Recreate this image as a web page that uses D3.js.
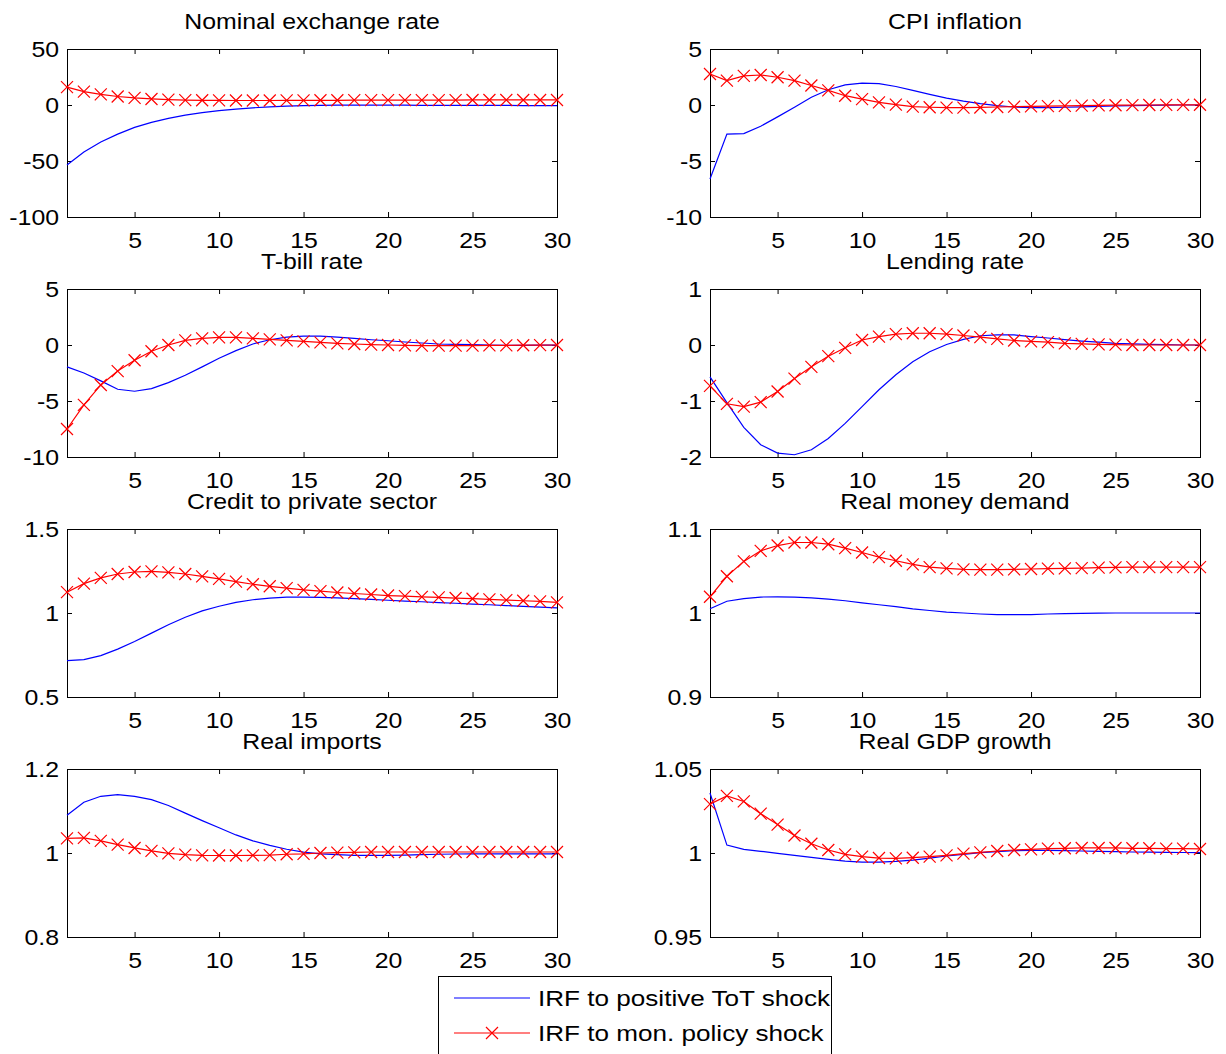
<!DOCTYPE html>
<html>
<head>
<meta charset="utf-8">
<script src="https://cdn.jsdelivr.net/npm/d3@7"></script>
<style>
  body{margin:0;background:#fff;}
  svg text{font-family:"Liberation Sans",Arial,Helvetica,sans-serif;fill:#000;}
</style>
</head>
<body>
<svg id="chart" width="1226" height="1054"></svg>
<script>
// horizons 1..30
const horizon=d3.range(1,31);
const xTicks=[5,10,15,20,25,30];

const titles=["Nominal exchange rate","CPI inflation","T-bill rate","Lending rate",
  "Credit to private sector","Real money demand","Real imports","Real GDP growth"];

const legendLabels=["IRF to positive ToT shock","IRF to mon. policy shock"];

// y tick labels of each panel
const ticksNer=[-100,-50,0,50];
const ticksCpi=[-10,-5,0,5];
const ticksTbill=[-10,-5,0,5];
const ticksLend=[-2,-1,0,1];
const ticksCredit=[0.5,1,1.5];
const ticksMoney=[0.9,1,1.1];
const ticksImports=[0.8,1,1.2];
const ticksGdp=[0.95,1,1.05];

// IRF to positive ToT shock (blue)
const totNer=[-53.5,-42,-33,-26,-20,-15.5,-12,-9,-6.8,-5,-3.6,-2.5,-1.6,-1,-0.6,-0.3,-0.2,-0.2,-0.2,-0.2,-0.2,-0.3,-0.3,-0.3,-0.4,-0.4,-0.4,-0.5,-0.5,-0.5];
const totCpi=[-6.6,-2.6,-2.55,-1.9,-1.06,-0.2,0.7,1.36,1.8,1.95,1.9,1.65,1.3,0.95,0.62,0.35,0.12,-0.06,-0.18,-0.24,-0.24,-0.2,-0.16,-0.12,-0.08,-0.05,-0.03,-0.01,0,0];
const totTbill=[-1.95,-2.5,-3.2,-3.95,-4.13,-3.9,-3.36,-2.7,-1.95,-1.18,-0.5,0.09,0.47,0.7,0.8,0.8,0.7,0.59,0.47,0.38,0.27,0.18,0.09,0.06,0.03,0,-0.03,-0.03,-0.02,-0.02];
const totLend=[-0.57,-1.03,-1.47,-1.78,-1.93,-1.96,-1.87,-1.67,-1.4,-1.1,-0.8,-0.53,-0.3,-0.12,0.01,0.1,0.165,0.18,0.18,0.15,0.125,0.095,0.07,0.05,0.03,0.02,0.01,0.005,0,0];
const totCredit=[0.717,0.722,0.746,0.785,0.83,0.88,0.93,0.975,1.013,1.04,1.063,1.079,1.089,1.094,1.095,1.093,1.09,1.086,1.081,1.076,1.071,1.067,1.062,1.058,1.053,1.049,1.044,1.04,1.035,1.031];
const totMoney=[1.005,1.014,1.017,1.019,1.0193,1.019,1.018,1.0165,1.0146,1.012,1.0098,1.0075,1.005,1.003,1.001,1.0,0.9988,0.998,0.998,0.998,0.9988,0.9992,0.9995,0.9998,1.0,1.0,1.0,1.0,1.0,1.0];
const totImports=[1.09,1.121,1.135,1.139,1.135,1.127,1.113,1.095,1.077,1.06,1.043,1.029,1.018,1.009,1.002,0.998,0.996,0.9945,0.9945,0.9945,0.995,0.996,0.997,0.9976,0.998,0.998,0.998,0.998,0.998,0.998];
const totGdp=[1.0357,1.0047,1.0022,1.001,0.9998,0.9986,0.9974,0.9962,0.9952,0.9946,0.9946,0.995,0.9958,0.997,0.9982,0.9992,1.0002,1.0008,1.0014,1.0016,1.0016,1.0014,1.0012,1.001,1.0008,1.0006,1.0005,1.0004,1.0003,1.0002];

// IRF to mon. policy shock (red, x markers)
const mpNer=[16,12,9.5,7.6,6.3,5.4,4.8,4.4,4.2,4.1,4.0,4.0,4.0,4.1,4.1,4.2,4.2,4.3,4.3,4.3,4.4,4.4,4.4,4.4,4.5,4.5,4.5,4.5,4.5,4.5];
const mpCpi=[2.77,2.18,2.6,2.68,2.48,2.18,1.74,1.3,0.83,0.53,0.24,0.03,-0.15,-0.2,-0.24,-0.24,-0.22,-0.18,-0.15,-0.12,-0.1,-0.08,-0.06,-0.04,-0.02,-0.01,0,0.01,0.01,0.02];
const mpTbill=[-7.5,-5.34,-3.57,-2.33,-1.36,-0.56,0,0.41,0.59,0.68,0.68,0.59,0.5,0.41,0.32,0.24,0.15,0.09,0.03,0,-0.03,-0.06,-0.06,-0.06,-0.05,-0.04,-0.03,-0.02,-0.01,0];
const mpLend=[-0.73,-1.05,-1.1,-1.02,-0.83,-0.6,-0.39,-0.2,-0.05,0.09,0.15,0.195,0.21,0.21,0.195,0.17,0.14,0.11,0.08,0.065,0.05,0.03,0.02,0.01,0.006,0,0,0,0,0];
const mpCredit=[1.124,1.175,1.209,1.232,1.244,1.248,1.242,1.232,1.218,1.203,1.187,1.171,1.159,1.148,1.138,1.13,1.122,1.116,1.11,1.104,1.1,1.096,1.093,1.089,1.085,1.081,1.077,1.073,1.069,1.063];
const mpMoney=[1.0193,1.0437,1.0614,1.074,1.0803,1.0839,1.0839,1.0819,1.0772,1.072,1.0665,1.0622,1.0579,1.0547,1.0531,1.052,1.0516,1.0516,1.052,1.0524,1.0528,1.0531,1.0535,1.054,1.0543,1.0547,1.0547,1.0547,1.0547,1.0547];
const mpImports=[1.035,1.036,1.029,1.02,1.012,1.005,0.999,0.996,0.9945,0.994,0.994,0.9945,0.995,0.997,0.998,1.0,1.0008,1.0016,1.0024,1.0024,1.0024,1.0024,1.0024,1.0024,1.0024,1.0024,1.0024,1.0024,1.0024,1.0024];
const mpGdp=[1.0291,1.034,1.0307,1.0234,1.0169,1.0104,1.0055,1.0018,0.9992,0.9978,0.997,0.9968,0.9972,0.9978,0.9986,0.9996,1.0004,1.0012,1.0018,1.0022,1.0026,1.0028,1.003,1.003,1.003,1.0028,1.0028,1.0026,1.0026,1.0024];

const panels=[
  {title:titles[0],ticks:ticksNer,tot:totNer,mp:mpNer},
  {title:titles[1],ticks:ticksCpi,tot:totCpi,mp:mpCpi},
  {title:titles[2],ticks:ticksTbill,tot:totTbill,mp:mpTbill},
  {title:titles[3],ticks:ticksLend,tot:totLend,mp:mpLend},
  {title:titles[4],ticks:ticksCredit,tot:totCredit,mp:mpCredit},
  {title:titles[5],ticks:ticksMoney,tot:totMoney,mp:mpMoney},
  {title:titles[6],ticks:ticksImports,tot:totImports,mp:mpImports},
  {title:titles[7],ticks:ticksGdp,tot:totGdp,mp:mpGdp}
];

const svg=d3.select("#chart");
const colLeft=[67,710];
const top0=49, rowStep=240;
const pw=490, ph=168;
const fs=22, stretch=1.13;   // text in the picture is a bit wider than plain Arial
const blue="#0000ff", red="#ff0000";
const cross="M-6,-6L6,6M-6,6L6,-6";

const x=d3.scaleLinear().domain([1,30]).range([0,pw]);

const styleAxis=(g)=>{
  g.attr("font-size",null).attr("font-family",null);
  g.selectAll(".domain").attr("stroke","#000");
  g.selectAll(".tick line").attr("stroke","#000");
  g.selectAll("text").style("font-size",fs+"px").attr("transform",`scale(${stretch},1)`);
};

const renderPanel=(p,i)=>{
  let g=svg.append("g")
    .attr("transform",`translate(${colLeft[i%2]},${top0+rowStep*Math.floor(i/2)})`);
  let y=d3.scaleLinear().domain(d3.extent(p.ticks)).range([ph,0]);

  g.append("rect")
    .attr("width",pw).attr("height",ph)
    .attr("fill","#fff").attr("stroke","#000")
    .attr("shape-rendering","crispEdges");

  g.append("g").attr("transform",`translate(0,${ph})`)
    .call(d3.axisBottom(x).tickValues(xTicks).tickSize(-5).tickSizeOuter(0).tickPadding(15))
    .call(styleAxis);
  g.append("g")
    .call(d3.axisTop(x).tickValues(xTicks).tickSize(-5).tickSizeOuter(0).tickFormat(""))
    .call(styleAxis);
  g.append("g")
    .call(d3.axisLeft(y).tickValues(p.ticks).tickSize(-5).tickSizeOuter(0).tickPadding(7).tickFormat((d)=>String(d)))
    .call(styleAxis);
  g.append("g").attr("transform",`translate(${pw},0)`)
    .call(d3.axisRight(y).tickValues(p.ticks).tickSize(-5).tickSizeOuter(0).tickFormat(""))
    .call(styleAxis);

  let line=d3.line().x((d,k)=>x(horizon[k])).y((d)=>y(d));
  g.append("path").datum(p.tot)
    .attr("d",line).attr("fill","none").attr("stroke",blue).attr("stroke-width",1.2);
  g.append("path").datum(p.mp)
    .attr("d",line).attr("fill","none").attr("stroke",red).attr("stroke-width",1.2);
  g.selectAll(".mark").data(p.mp).enter()
    .append("path")
      .attr("class","mark")
      .attr("transform",(d,k)=>`translate(${x(horizon[k])},${y(d)})`)
      .attr("d",cross).attr("fill","none").attr("stroke",red).attr("stroke-width",1.2);

  g.append("text")
    .attr("transform",`translate(${pw/2},-20) scale(${stretch},1)`)
    .attr("text-anchor","middle")
    .style("font-size",fs+"px")
    .text(p.title);
};

panels.forEach(renderPanel);

// legend
let lg=svg.append("g").attr("transform","translate(438,976)");
lg.append("rect").attr("width",393).attr("height",110)
  .attr("fill","#fff").attr("stroke","#000").attr("shape-rendering","crispEdges");
[blue,red].forEach((c,k)=>{
  let yy=22+35*k;
  lg.append("line").attr("x1",16).attr("x2",92).attr("y1",yy).attr("y2",yy)
    .attr("stroke",c).attr("stroke-width",1.2);
  if(k===1){
    lg.append("path").attr("transform",`translate(54,${yy})`)
      .attr("d",cross).attr("fill","none").attr("stroke",c).attr("stroke-width",1.2);
  }
  lg.append("text")
    .attr("transform",`translate(100,${yy+8}) scale(1.16,1)`)
    .style("font-size","22.5px")
    .text(legendLabels[k]);
});
</script>
</body>
</html>
